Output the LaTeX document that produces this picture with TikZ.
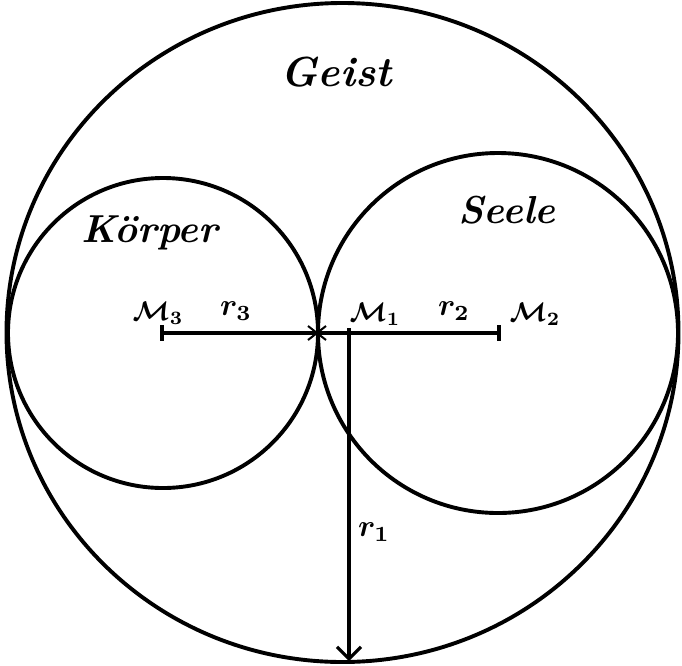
\documentclass[tikz,border=0pt]{standalone}
\usepackage{fontspec}
\usepackage{graphicx}
\usetikzlibrary{arrows.meta}
\newcommand{\symM}[1]{\scalebox{2.7}{\boldmath$\mathcal{M}_{#1}$}}
\newcommand{\symr}[1]{\scalebox{3.1}{\boldmath$r_{#1}$}}
\tikzset{
  ring/.style={line width=3.9pt},
  bar/.style={line width=3.1pt},
  bigword/.style={font=\fontsize{42}{44}\selectfont\bfseries\itshape},
  word/.style={font=\fontsize{39}{42}\selectfont\bfseries\itshape},
  sym/.style={inner sep=1pt},
}
\begin{document}
\begin{tikzpicture}[x=1pt,y=-1pt]
\useasboundingbox (0,0) rectangle (682,665);
% centres and points
\coordinate (C) at (342.5,332.5);
\coordinate (M3) at (162,333);
\coordinate (M1) at (349,333);
\coordinate (M2) at (499,333);
\coordinate (T) at (317,333);
\coordinate (B) at (349,661);
% circles
\draw[ring] (C) ellipse [x radius=336pt, y radius=329.5pt];
\draw[ring] (163,333) circle [radius=155pt];
\draw[ring] (498,333) circle [radius=180pt];
% radii
\draw[bar] (M3) -- (M2);
\draw[bar] ([yshift=8pt]M3) -- ([yshift=-8pt]M3);
\draw[bar] ([yshift=8pt]M2) -- ([yshift=-8pt]M2);
\draw[bar] ([yshift=5pt]M1) -- ([yshift=-5pt]M1);
\draw[bar,-{Straight Barb[length=12pt,width=24pt,line width=3.1pt]}] (M1) -- (B);
% tangent point mark
\draw[line width=2pt] ([shift={(-9pt,-7pt)}]T) -- ([shift={(9pt,7pt)}]T)
  ([shift={(-9pt,7pt)}]T) -- ([shift={(9pt,-7pt)}]T);
% labels
\node[bigword] (geist) at (336,72) {Geist};
\node[word] (koerper) at (150,233) {Körper};
\node[word] (seele) at (507,210) {Seele};
\node[sym] (lM3) at (158,313) {\symM{3}};
\node[sym] (lr3) at (236,311) {\symr{3}};
\node[sym] (lM1) at (375,314) {\symM{1}};
\node[sym] (lr2) at (454,311) {\symr{2}};
\node[sym] (lM2) at (535,314) {\symM{2}};
\node[sym] (lr1) at (374,532) {\symr{1}};
\end{tikzpicture}
\end{document}
